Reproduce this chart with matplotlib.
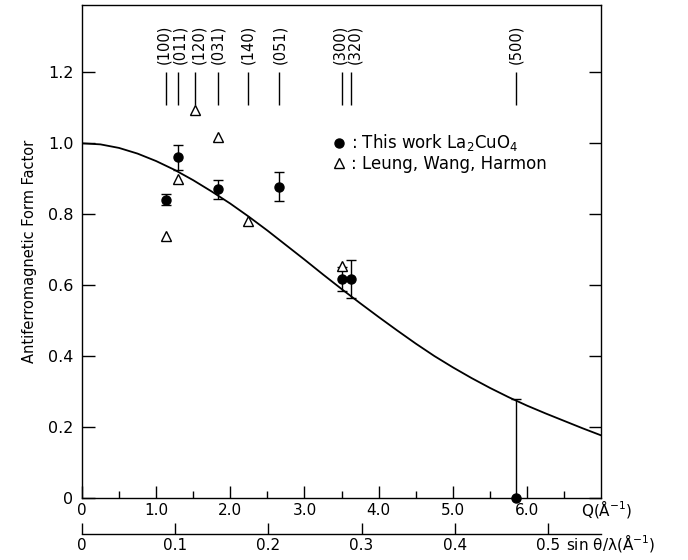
import numpy as np
import matplotlib.pyplot as plt
from matplotlib.lines import Line2D

# form factor curve
q_curve = [0.0, 0.25, 0.5, 0.75, 1.0, 1.25, 1.5, 1.75, 2.0, 2.25, 2.5, 2.75, 3.0, 3.25,
           3.5, 3.75, 4.0, 4.25, 4.5, 4.75, 5.0, 5.25, 5.5, 5.75, 6.0, 6.25, 6.5, 6.75, 7.0]
f_curve = [1.000, 0.997, 0.987, 0.971, 0.950, 0.925, 0.896, 0.864, 0.830, 0.793, 0.754,
           0.713, 0.672, 0.630, 0.589, 0.549, 0.510, 0.472, 0.435, 0.400, 0.368, 0.338,
           0.310, 0.284, 0.260, 0.238, 0.217, 0.196, 0.176]

# this work, La2CuO4
q_this = [1.13, 1.29, 1.84, 2.66, 3.51, 3.63, 5.85]
f_this = [0.841, 0.960, 0.870, 0.878, 0.618, 0.618, 0.0]
err_lo = [0.015, 0.035, 0.027, 0.041, 0.034, 0.053, 0.0]
err_hi = [0.015, 0.035, 0.027, 0.041, 0.034, 0.053, 0.28]

# Leung, Wang, Harmon
q_lwh = [1.13, 1.29, 1.52, 1.83, 2.24, 3.50]
f_lwh = [0.739, 0.898, 1.093, 1.017, 0.782, 0.654]

# reflections
refl_labels = ['(100)', '(011)', '(120)', '(031)', '(140)', '(051)', '(300)', '(320)', '(500)']
refl_q = [1.14, 1.29, 1.52, 1.83, 2.24, 2.66, 3.50, 3.63, 5.85]

q_ticks = [0, 1, 2, 3, 4, 5, 6]
q_ticklabels = ['0', '1.0', '2.0', '3.0', '4.0', '5.0', '6.0']
s_ticks = [0, 0.1, 0.2, 0.3, 0.4, 0.5]
s_ticklabels = ['0', '0.1', '0.2', '0.3', '0.4', '0.5']
y_ticks = [0, 0.2, 0.4, 0.6, 0.8, 1.0, 1.2]
y_ticklabels = ['0', '0.2', '0.4', '0.6', '0.8', '1.0', '1.2']

fig = plt.figure(figsize=(6.88, 5.6), dpi=100)
ax = fig.add_axes([0.119, 0.111, 0.755, 0.880])

ax.plot(q_curve, f_curve, color='black', linewidth=1.3, zorder=2)

ax.errorbar(q_this, f_this, yerr=[err_lo, err_hi], fmt='o', color='black', markersize=6.5,
            elinewidth=1, capsize=3.5, capthick=1, zorder=4, clip_on=False)
ax.plot(q_lwh, f_lwh, linestyle='none', marker='^', markersize=7.5, markerfacecolor='white',
        markeredgecolor='black', markeredgewidth=1, zorder=5)

# reflection markers with labels (labels nudged apart a little where crowded)
ax.vlines(refl_q, 1.107, 1.20, color='black', linewidth=1)
nudge = [-0.03, 0.03, 0.06, 0.0, 0.0, 0.0, -0.03, 0.05, 0.0]
for q, dq, lab in zip(refl_q, nudge, refl_labels):
    ax.text(q + dq, 1.225, lab, rotation=90, ha='center', va='bottom', fontsize=10.5)

ax.set_xlim(0, 7.0)
ax.set_ylim(0, 1.39)
ax.set_xticks(q_ticks)
ax.set_xticklabels(q_ticklabels)
ax.set_xticks(np.arange(0.5, 7.0, 1.0), minor=True)
ax.set_yticks(y_ticks)
ax.set_yticklabels(y_ticklabels)
ax.tick_params(axis='x', which='major', direction='in', length=9, width=1, labelsize=11, pad=4)
ax.tick_params(axis='x', which='minor', direction='in', length=5, width=1)
ax.tick_params(axis='y', direction='in', length=9, width=1, labelsize=11.5, right=True, pad=6)
for sp in ax.spines.values():
    sp.set_linewidth(1)

ax.set_ylabel('Antiferromagnetic Form Factor', fontsize=10.5, labelpad=8)
ax.annotate('Q(Å$^{-1}$)', xy=(7.07, 0), xycoords=('data', 'axes fraction'),
            xytext=(0, -12.5), textcoords='offset points', ha='center', va='baseline',
            fontsize=11, annotation_clip=False)

# sin(theta)/lambda axis
sec_pos = -0.073
sec = ax.secondary_xaxis(sec_pos, functions=(lambda q: q / (4 * np.pi), lambda s: s * 4 * np.pi))
sec.set_xticks(s_ticks)
sec.set_xticklabels(s_ticklabels)
sec.tick_params(direction='in', length=8, width=1, labelsize=11, pad=3)
sec.spines['bottom'].set_linewidth(1)
ax.annotate('sin θ/λ(Å$^{-1}$)', xy=(6.52, sec_pos), xycoords=('data', 'axes fraction'),
            xytext=(0, -11.5), textcoords='offset points', ha='left', va='baseline',
            fontsize=11, annotation_clip=False)

handles = [Line2D([], [], linestyle='none', marker='o', color='black', markersize=6.5),
           Line2D([], [], linestyle='none', marker='^', markersize=7.5, markerfacecolor='white',
                  markeredgecolor='black', markeredgewidth=1)]
labels = [': This work La$_2$CuO$_4$', ': Leung, Wang, Harmon']
ax.legend(handles, labels, loc='upper left', bbox_to_anchor=(0.45, 0.772), frameon=False,
          handlelength=1.0, handletextpad=0.2, labelspacing=0.1, fontsize=12)

plt.savefig('out.png', dpi=100)
